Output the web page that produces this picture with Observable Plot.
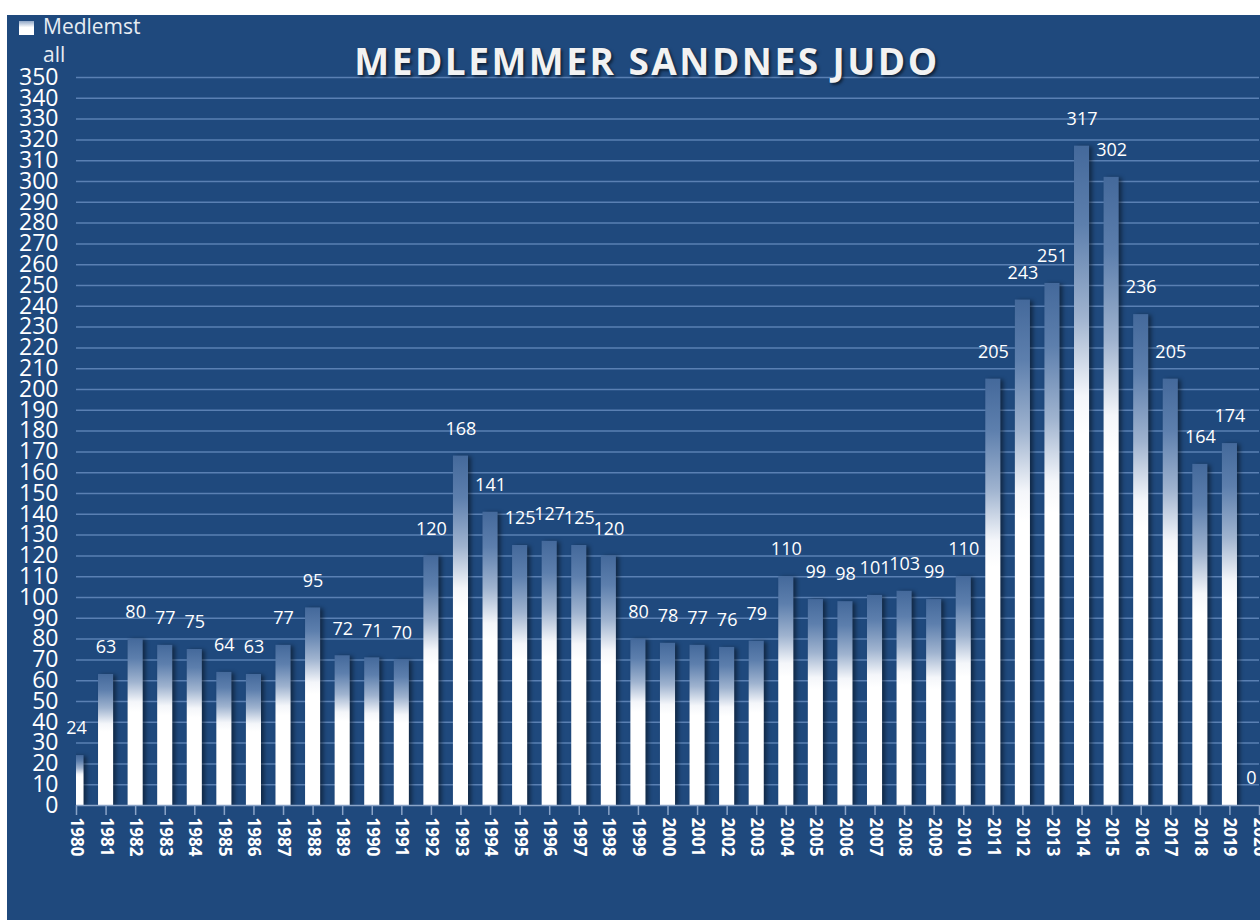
<!DOCTYPE html>
<html><head><meta charset="utf-8">
<script src="https://cdn.jsdelivr.net/npm/d3@7"></script>
<script src="https://cdn.jsdelivr.net/npm/@observablehq/plot@0.6"></script>
<style>
body{margin:0;background:#fff;}
#wrap{position:absolute;left:7px;top:15px;width:1253px;height:905px;background:#1f497d;overflow:hidden;font-family:"Open Sans",sans-serif;}
#title{position:absolute;left:290px;width:700px;top:29px;text-align:center;font-weight:700;font-size:37px;line-height:34px;color:#f2f2f2;text-shadow:2px 2px 3px rgba(0,0,0,.55);letter-spacing:2.5px;white-space:nowrap;z-index:2;}
#legend{position:absolute;left:12px;top:0px;color:#e6ecf3;font-size:21px;line-height:21px;z-index:2;}
#legend .sw{position:absolute;left:0;top:6px;width:15px;height:14px;background:linear-gradient(#8fa6c6,#ffffff 45%);}
#legend .t{position:absolute;left:24px;top:1px;white-space:nowrap;}
#legend .t2{position:absolute;left:24px;top:29px;white-space:nowrap;}
#chart{position:absolute;left:0;top:0;}
</style></head>
<body>
<div id="wrap">
  <div id="legend"><div class="sw"></div><div class="t">Medlemst</div><div class="t2">all</div></div>
  <div id="title">MEDLEMMER SANDNES JUDO</div>
  <div id="chart"></div>
</div>
<script>
const years = [1980,1981,1982,1983,1984,1985,1986,1987,1988,1989,1990,1991,1992,1993,1994,1995,1996,1997,1998,1999,2000,2001,2002,2003,2004,2005,2006,2007,2008,2009,2010,2011,2012,2013,2014,2015,2016,2017,2018,2019,2020];
const members = [24,63,80,77,75,64,63,77,95,72,71,70,120,168,141,125,127,125,120,80,78,77,76,79,110,99,98,101,103,99,110,205,243,251,317,302,236,205,164,174,0];
const yTicks = [0,10,20,30,40,50,60,70,80,90,100,110,120,130,140,150,160,170,180,190,200,210,220,230,240,250,260,270,280,290,300,310,320,330,340,350];

const data = years.map((year, i) => ({year, value: members[i]}));
const halfBar = 0.255;
const lastYear = years[years.length - 1];

const chart = Plot.plot({
  width: 1253, height: 905,
  marginLeft: 69, marginRight: 1, marginTop: 62, marginBottom: 115,
  style: {background: "transparent", color: "white", fontFamily: "'Open Sans', sans-serif", overflow: "visible"},
  x: {type: "linear", domain: [years[0], lastYear]},
  y: {domain: [0, 350], label: null},
  marks: [
    () => {
      const defs = d3.create("svg:defs");
      const g = defs.append("linearGradient").attr("id", "barGrad")
        .attr("x1", 0).attr("y1", 0).attr("x2", 0).attr("y2", 1);
      [[0, "#44699b"], [0.12, "#5d7fad"], [0.26, "#9fb3cf"], [0.38, "#f4f6fa"], [0.44, "#ffffff"], [1, "#ffffff"]]
        .forEach(([o, c]) => g.append("stop").attr("offset", o).attr("stop-color", c));
      return defs.node();
    },
    Plot.gridY(yTicks.filter(d => d > 0), {stroke: "#5a80b3", strokeOpacity: 1, strokeWidth: 1.5}),
    Plot.rectY(data, {x1: d => d.year - halfBar, x2: d => d.year + halfBar, y: "value", fill: "url(#barGrad)", clip: true}),
    Plot.ruleY([0], {stroke: "#8aa4c8", strokeWidth: 1.5}),
    Plot.axisX({ticks: years, tickSize: 10, tickFormat: () => "", stroke: "#8aa4c8", strokeWidth: 1.5, label: null}),
    Plot.text(data, {x: "year", text: d => String(d.year), frameAnchor: "bottom", rotate: 90, textAnchor: "start", lineAnchor: "middle", dy: 12, fontSize: 17, fontWeight: 700, fill: "white"}),
    Plot.axisY({ticks: yTicks, tickSize: 0, tickPadding: 18, fontSize: 23, fill: "white", tickFormat: d => String(d), label: null}),
    Plot.text(data.filter(d => d.year < lastYear), {x: "year", y: "value", text: d => String(d.value), dy: -27, fontSize: 18, fill: "white"}),
    Plot.text(data.filter(d => d.year === lastYear), {x: "year", y: "value", text: d => String(d.value), dy: -27, dx: -3, textAnchor: "end", fontSize: 18, fill: "white"})
  ]
});
d3.select(chart).selectAll('g[aria-label="rect"]').style("filter", "drop-shadow(3px 1px 2px rgba(0,0,0,0.45))");
document.getElementById("chart").appendChild(chart);
</script>
</body></html>
